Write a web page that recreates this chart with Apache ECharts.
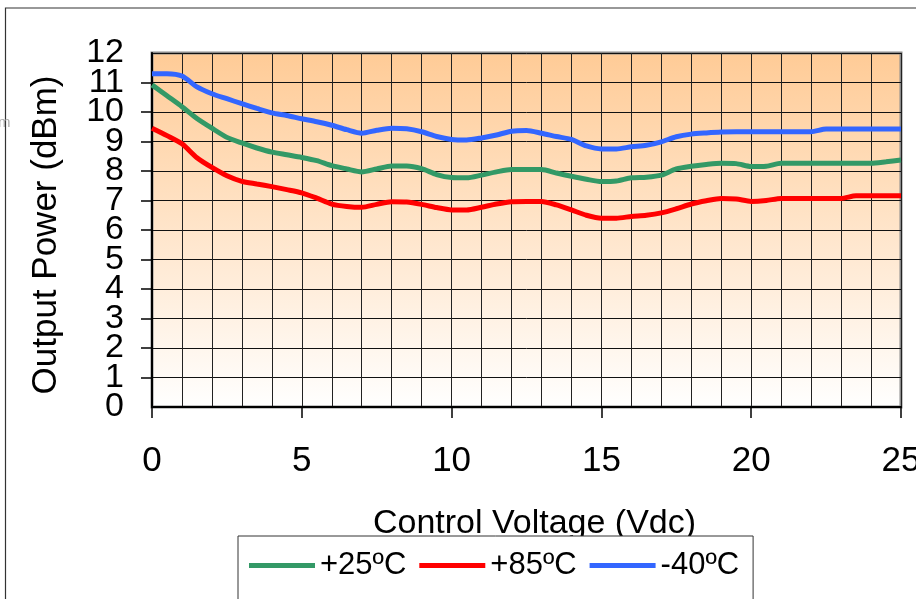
<!DOCTYPE html>
<html>
<head>
<meta charset="utf-8">
<script src="https://cdn.jsdelivr.net/npm/echarts@6/dist/echarts.min.js"></script>
<style>
html,body{margin:0;padding:0;background:#fff;overflow:hidden;}
#chart{width:916px;height:599px;}
</style>
</head>
<body>
<div id="chart"></div>
<script>
const voltage = [0,0.5,1,1.5,2,2.5,3,3.5,4,4.5,5,5.5,6,6.5,7,7.5,8,8.5,9,9.5,10,10.5,11,11.5,12,12.5,13,13.5,14,14.5,15,15.5,16,16.5,17,17.5,18,18.5,19,19.5,20,20.5,21,21.5,22,22.5,23,23.5,24,24.5,25];
const p25 = [10.92,10.55,10.18,9.78,9.45,9.14,8.95,8.78,8.64,8.55,8.46,8.35,8.18,8.07,7.97,8.07,8.17,8.17,8.08,7.88,7.78,7.77,7.86,7.97,8.05,8.05,8.05,7.93,7.82,7.72,7.64,7.66,7.77,7.79,7.86,8.07,8.16,8.22,8.26,8.25,8.15,8.16,8.26,8.26,8.26,8.26,8.26,8.26,8.26,8.31,8.37];
const p85 = [9.45,9.2,8.92,8.45,8.12,7.84,7.65,7.56,7.47,7.37,7.26,7.08,6.88,6.8,6.77,6.87,6.96,6.95,6.87,6.76,6.68,6.68,6.77,6.88,6.96,6.97,6.97,6.85,6.68,6.5,6.4,6.4,6.46,6.5,6.58,6.72,6.88,6.99,7.07,7.05,6.97,7.0,7.07,7.07,7.07,7.07,7.07,7.16,7.16,7.16,7.16];
const m40 = [11.3,11.3,11.22,10.85,10.62,10.45,10.28,10.12,9.97,9.88,9.77,9.67,9.55,9.4,9.28,9.38,9.45,9.43,9.33,9.17,9.07,9.05,9.12,9.22,9.35,9.37,9.28,9.17,9.07,8.85,8.75,8.75,8.82,8.87,8.99,9.16,9.25,9.29,9.32,9.33,9.33,9.33,9.33,9.33,9.33,9.42,9.42,9.42,9.42,9.42,9.42];
const seriesNames = ['+25ºC','+85ºC','-40ºC'];
const seriesColors = ['#339966','#ff0000','#3366ff'];
const yTicks = [0,1,2,3,4,5,6,7,8,9,10,11,12];
const xTicks = [0,5,10,15,20,25];

const FONT = 'Liberation Sans, Arial, sans-serif';
const pair = (ys) => voltage.map((v,i)=>[v, ys[i]]);
const yMin = yTicks[0], yMax = yTicks[yTicks.length-1];
const chart = echarts.init(document.getElementById('chart'));
chart.setOption({
  animation:false,
  backgroundColor:'#fff',
  grid:{left:152, top:53, right:15, bottom:192, show:true, borderColor:'#8a8a8a', borderWidth:3,
    outerBoundsMode:'none', containLabel:false,
    backgroundColor:{type:'linear',x:0,y:0,x2:0,y2:1,colorStops:[{offset:0,color:'#ffcb96'},{offset:1,color:'#ffffff'}]}},
  xAxis:{type:'value', min:xTicks[0], max:xTicks[xTicks.length-1], interval:5,
    name:'Control Voltage (Vdc)', nameLocation:'middle', nameGap:117,
    nameTextStyle:{fontFamily:FONT, fontSize:34, color:'#000', verticalAlign:'middle', padding:[0,0,0,16]},
    axisLine:{show:true, onZero:false, lineStyle:{color:'#000', width:2}},
    axisTick:{show:true, length:11, inside:false, lineStyle:{color:'#000', width:1.5}},
    minorTick:{show:false, splitNumber:5},
    splitLine:{show:true, lineStyle:{color:'#222', width:1}},
    minorSplitLine:{show:true, lineStyle:{color:'#222', width:1}},
    axisLabel:{fontFamily:FONT, fontSize:35, color:'#000', margin:54, verticalAlign:'middle', showMinLabel:true, showMaxLabel:true}
  },
  yAxis:[{type:'value', position:'left', min:yMin, max:yMax, interval:1,
    name:'Output Power (dBm)', nameLocation:'middle', nameGap:106, nameRotate:90,
    nameTextStyle:{fontFamily:FONT, fontSize:35, color:'#000', verticalAlign:'middle', padding:[0,10,0,0]},
    axisLine:{show:true, onZero:false, lineStyle:{color:'#000', width:2}},
    axisTick:{show:true, length:11, inside:false, lineStyle:{color:'#000', width:1.5}},
    splitLine:{show:true, lineStyle:{color:'#111', width:1}},
    axisLabel:{fontFamily:FONT, fontSize:34, color:'#000', margin:28, hideOverlap:false, showMinLabel:false, showMaxLabel:false}
  },{type:'value', position:'left', offset:0, min:yMin, max:yMax, interval:1,
    axisLine:{show:false}, axisTick:{show:false}, splitLine:{show:false},
    axisLabel:{fontFamily:FONT, fontSize:34, color:'#000', margin:28, hideOverlap:false, showMinLabel:true, showMaxLabel:true,
      formatter:(v)=> (v===yMin||v===yMax) ? String(v) : ''}
  }],
  legend:{left:238, top:536, orient:'horizontal', padding:[14,14,40,11], itemGap:13,
    itemWidth:66, itemHeight:5, icon:'rect', borderColor:'#333', borderWidth:1, backgroundColor:'#fff',
    textStyle:{fontFamily:FONT, fontSize:31, color:'#000'},
    data:seriesNames},
  graphic:[
    {type:'rect', shape:{x:5.5, y:8, width:1000, height:1000}, style:{fill:'none', stroke:'#333', lineWidth:1.2}, z:-1, silent:true},
    {type:'text', x:-2, y:123, style:{text:'m', fontFamily:FONT, fontSize:15, fill:'#aaa', verticalAlign:'middle'}, z:-1, silent:true}
  ],
  series:[p25,p85,m40].map((ys,i)=>({
    type:'line', name:seriesNames[i], yAxisIndex:0, data:pair(ys), showSymbol:false, smooth:0.25,
    lineStyle:{color:seriesColors[i], width:5}, itemStyle:{color:seriesColors[i]}
  }))
});
</script>
</body>
</html>
